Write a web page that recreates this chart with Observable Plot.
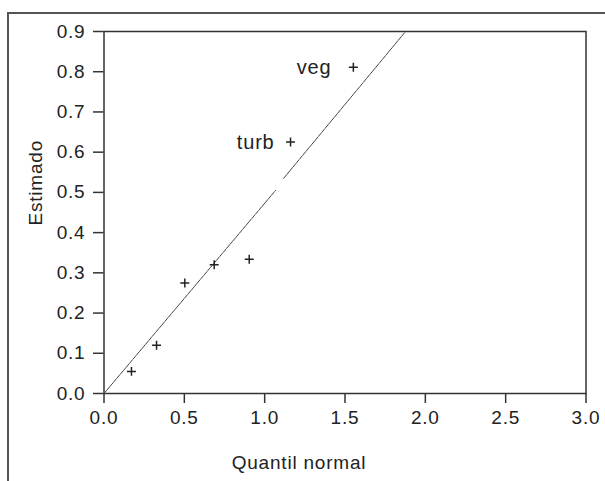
<!DOCTYPE html>
<html>
<head>
<meta charset="utf-8">
<script src="https://cdn.jsdelivr.net/npm/d3@7"></script>
<script src="https://cdn.jsdelivr.net/npm/@observablehq/plot@0.6"></script>
<style>
  html, body { margin: 0; padding: 0; background: #fff; }
  #wrap { position: relative; width: 605px; height: 481px; overflow: hidden; }
  #outer { position: absolute; left: 7px; top: 12px; width: 620px; height: 500px;
           border-top: 2px solid #555; border-left: 2px solid #555; box-sizing: border-box; }
  #chart { position: absolute; left: 0; top: 0; }
  svg text { letter-spacing: 0.8px; }
</style>
</head>
<body>
<div id="wrap"><div id="outer"></div><div id="chart"></div></div>
<script>
// Data
const quantil  = [0.171, 0.327, 0.503, 0.686, 0.904, 1.161, 1.552];
const estimado = [0.055, 0.120, 0.275, 0.320, 0.334, 0.625, 0.811];
const names    = ["", "", "", "", "", "turb", "veg"];
// reference line (two pieces, with the small gap seen in the picture)
const lineX   = [0, 1.068, 1.118, 1.877];
const lineY   = [0, 0.505, 0.535, 0.9];
const lineSeg = [1, 1, 2, 2];
const xTicks = [0, 0.5, 1, 1.5, 2, 2.5, 3];
const yTicks = [0, 0.1, 0.2, 0.3, 0.4, 0.5, 0.6, 0.7, 0.8, 0.9];

const pts = quantil.map((q, i) => ({x: q, y: estimado[i], name: names[i]}));
const ref = lineX.map((x, i) => ({x, y: lineY[i], seg: lineSeg[i]}));
const fmt = d3.format(".1f");
const ink = "#333";

const chart = Plot.plot({
  width: 605,
  height: 481,
  marginLeft: 103.5,
  marginRight: 19.5,
  marginTop: 31,
  marginBottom: 88,
  style: {fontFamily: "'Liberation Sans', Arial, sans-serif", fontSize: "19px", color: "#222", background: "transparent"},
  x: {domain: [0, 3]},
  y: {domain: [0, 0.9]},
  marks: [
    Plot.axisX({ticks: xTicks, tickFormat: fmt, tickSize: 10, tickPadding: 7, stroke: ink, strokeWidth: 1.5, label: null, fontSize: 19}),
    Plot.axisY({ticks: yTicks, tickFormat: fmt, tickSize: 10.5, tickPadding: 8, stroke: ink, strokeWidth: 1.5, label: null, fontSize: 19}),
    Plot.frame({stroke: ink, strokeWidth: 1.5}),
    Plot.line(ref, {x: "x", y: "y", z: "seg", stroke: "#444", strokeWidth: 1, strokeDasharray: "4,1"}),
    Plot.dot(pts, {x: "x", y: "y", symbol: "plus", r: 3, stroke: "#222", strokeWidth: 1.5}),
    Plot.text(pts.filter(d => d.name === "veg"), {x: "x", y: "y", text: "name", textAnchor: "end", dx: -22, fontSize: 20, fill: "#222"}),
    Plot.text(pts.filter(d => d.name === "turb"), {x: "x", y: "y", text: "name", textAnchor: "end", dx: -16, fontSize: 20, fill: "#222"}),
    Plot.text(["Quantil normal"], {frameAnchor: "bottom", dx: -46, dy: 69, lineAnchor: "middle", fontSize: 19, fill: "#222"}),
    Plot.text(["Estimado"], {frameAnchor: "left", rotate: -90, dx: -68.5, dy: 13, lineAnchor: "middle", fontSize: 19, fill: "#222"})
  ]
});
document.getElementById("chart").appendChild(chart);
</script>
</body>
</html>
